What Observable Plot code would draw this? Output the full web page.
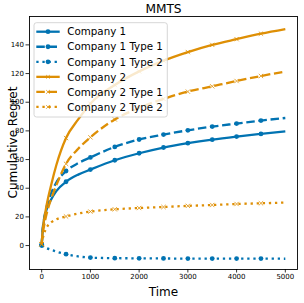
<!DOCTYPE html>
<html><head><meta charset="utf-8">
<script src="https://cdn.jsdelivr.net/npm/d3@7"></script>
<script src="https://cdn.jsdelivr.net/npm/@observablehq/plot@0.6"></script>
<style>body{margin:0;background:#fff} #chart{width:304px;height:303px}</style>
</head><body><div id="chart"></div>
<script>
const title = "MMTS";
const xLabel = "Time";
const yLabel = "Cumulative Regret";
const seriesNames = ["Company 1", "Company 1 Type 1", "Company 1 Type 2", "Company 2", "Company 2 Type 1", "Company 2 Type 2"];
const time = [0, 25, 50, 100, 200, 300, 500, 750, 1000, 1500, 2000, 2500, 3000, 3500, 4000, 4500, 5000];
const company1      = [0.5, 12, 18, 25, 32.5, 38, 44.5, 49.5, 53, 59.5, 64.4, 68.4, 71.4, 73.9, 76, 77.9, 79.7];
const company1Type1 = [0.5, 13, 19, 27, 37, 44, 52, 57.5, 61.5, 68.8, 74, 77.4, 80.4, 83, 85.1, 87.2, 89];
const company1Type2 = [0, -0.5, -1, -1.8, -3, -4.2, -6, -7.6, -8.4, -8.8, -8.9, -9.0, -9.1, -9.1, -9.1, -9.1, -9.2];
const company2      = [1, 12, 18, 28, 43, 56, 75, 88, 99, 112, 121.5, 129, 135, 140, 144, 147.8, 151];
const company2Type1 = [1, 9, 14, 22, 33, 42, 57, 67.5, 75.5, 88, 96, 102.3, 107.4, 111.1, 114.8, 118.3, 121.4];
const company2Type2 = [1, 5.5, 8.4, 12.5, 16.3, 18.3, 20.3, 22.3, 23.7, 25.3, 26.2, 26.9, 27.7, 28.3, 29, 29.5, 30];
const xTicks = [0, 1000, 2000, 3000, 4000, 5000];
const yTicks = [0, 20, 40, 60, 80, 100, 120, 140];
const markerEvery = 500;

const blue = "#0173b2", orange = "#de8f05";
const DASH = "8.5,3.7", DOT = "2.3,3.8";
const series = [
  {name: seriesNames[0], values: company1, color: blue, dash: null, symbol: "circle"},
  {name: seriesNames[1], values: company1Type1, color: blue, dash: DASH, symbol: "circle"},
  {name: seriesNames[2], values: company1Type2, color: blue, dash: DOT, symbol: "circle"},
  {name: seriesNames[3], values: company2, color: orange, dash: null, symbol: "times"},
  {name: seriesNames[4], values: company2Type1, color: orange, dash: DASH, symbol: "times"},
  {name: seriesNames[5], values: company2Type2, color: orange, dash: DOT, symbol: "times"}
];
const rows = series.map(s => time.map((t, i) => ({series: s.name, t, v: s.values[i]})));

function markerMark(data, s) {
  return s.symbol === "circle"
    ? Plot.dot(data, {x: "t", y: "v", r: 2.4, fill: s.color, stroke: "none"})
    : Plot.dot(data, {x: "t", y: "v", r: 2.1, symbol: "times", stroke: s.color, strokeWidth: 0.8, fill: "none"});
}

const marks = [];
series.forEach((s, k) => {
  marks.push(Plot.line(rows[k], {x: "t", y: "v", stroke: s.color, strokeWidth: 2.3,
    strokeDasharray: s.dash || undefined, curve: "monotone-x", strokeLinecap: "butt"}));
  marks.push(markerMark(rows[k].filter(d => d.t % markerEvery === 0 && d.t < 5000), s));
});

const fmt = d => String(d);
const FONT = "DejaVu Sans";
const chart = Plot.plot({
  width: 304, height: 303,
  marginLeft: 29, marginRight: 7, marginTop: 16, marginBottom: 34,
  x: {domain: [-250, 5250]},
  y: {domain: [-16.7, 159.8]},
  style: {fontFamily: FONT, fontSize: "7px", color: "black", background: "white"},
  marks: [
    ...marks,
    Plot.frame({stroke: "black", strokeWidth: 0.9}),
    Plot.axisX({ticks: xTicks, tickSize: 3.5, tickPadding: 1.5, tickFormat: fmt, label: null, fill: "black", stroke: "black", strokeWidth: 0.8}),
    Plot.axisY({ticks: yTicks, tickSize: 3.5, tickPadding: 2, tickFormat: fmt, label: null, fill: "black", stroke: "black", strokeWidth: 0.8}),
    Plot.text([title], {frameAnchor: "top", dy: -7, fontSize: 12.2, fontFamily: FONT, textAnchor: "middle", lineAnchor: "middle", fill: "black", text: d => d}),
    Plot.text([xLabel], {frameAnchor: "bottom", dy: 22.5, fontSize: 12, fontFamily: FONT, textAnchor: "middle", lineAnchor: "middle", fill: "black", text: d => d})
  ]
});
document.getElementById("chart").appendChild(chart);

const svg = d3.select(chart);
// rotated y-axis label
svg.append("text")
  .attr("transform", "translate(12.5,142.5) rotate(-90)")
  .attr("text-anchor", "middle").attr("dy", "0.36em")
  .attr("font-family", FONT).attr("font-size", 12).attr("fill", "black")
  .text(yLabel);

// legend
const lg = svg.append("g").attr("font-family", FONT).attr("font-size", 10.3).attr("text-anchor", "start");
lg.append("rect").attr("x", 34).attr("y", 22.7).attr("width", 133.3).attr("height", 94.3)
  .attr("rx", 2.5).attr("fill", "white").attr("fill-opacity", 0.8).attr("stroke", "#cccccc").attr("stroke-width", 0.8);
series.forEach((s, i) => {
  const y = 31.7 + i * 15.05;
  lg.append("line").attr("x1", 36.3).attr("x2", 59.7).attr("y1", y).attr("y2", y)
    .attr("stroke", s.color).attr("stroke-width", 2.3).attr("stroke-dasharray", s.dash);
  if (s.symbol === "circle") {
    lg.append("circle").attr("cx", 48).attr("cy", y).attr("r", 2.4).attr("fill", s.color);
  } else {
    lg.append("path").attr("d", `M${48-1.8},${y-1.8}L${48+1.8},${y+1.8}M${48-1.8},${y+1.8}L${48+1.8},${y-1.8}`)
      .attr("stroke", s.color).attr("stroke-width", 0.8).attr("fill", "none");
  }
  lg.append("text").attr("x", 67.3).attr("y", y).attr("dy", "0.36em").attr("fill", "black")
    .attr("text-anchor", "start").text(s.name);
});
</script></body></html>
